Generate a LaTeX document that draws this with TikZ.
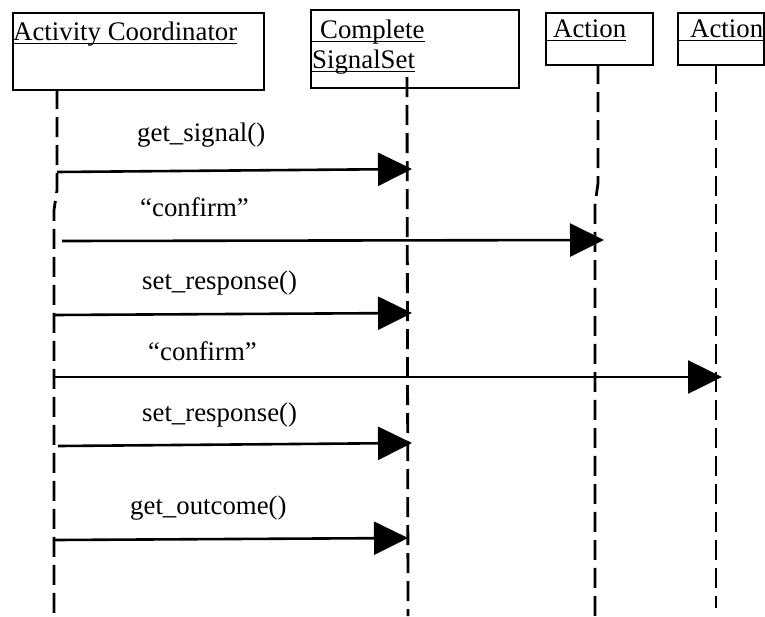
\documentclass[tikz,border=0pt]{standalone}
\usepackage{fontspec}
\setmainfont{Liberation Serif}
\usetikzlibrary{arrows.meta}
\begin{document}
\begin{tikzpicture}[x=1pt,y=-1pt,
  box/.style={draw,line width=1.8pt,inner sep=0pt,anchor=north west},
  lbl/.style={anchor=base west,inner sep=0pt,font=\fontsize{26.8}{30}\selectfont},
  uline/.style={line width=1.3pt},
  life/.style={line width=2.8pt,dash pattern=on 20pt off 8pt},
  msg/.style={line width=2.6pt,-{Triangle[length=34pt,width=33pt]}}]
\useasboundingbox (0,0) rectangle (765,616);
% heads
\node[box,minimum width=251pt,minimum height=77pt] (ac) at (12,12) {};
\node[box,minimum width=208pt,minimum height=78pt] (css) at (310,9) {};
\node[box,minimum width=107pt,minimum height=52pt] (a1) at (545,12) {};
\node[box,minimum width=86pt,minimum height=52pt] (a2) at (677,12) {};
\node[lbl] (tac) at (13,40) {Activity Coordinator};
\node[lbl] (tcomp) at (320,38) {Complete};
\node[lbl] (tsig) at (312,68) {SignalSet};
\node[lbl] (ta1) at (553,37) {Action};
\node[lbl] (ta2) at (690,37) {Action};
\draw[uline] ([yshift=-3.5pt]tac.base west) -- ([yshift=-3.5pt]tac.base east);
\draw[uline] ([yshift=-3.5pt]tcomp.base west -| css.west) -- ([yshift=-3.5pt]tcomp.base east);
\draw[uline] ([yshift=-3.5pt]tsig.base west -| css.west) -- ([yshift=-3.5pt]tsig.base east);
\draw[uline] ([yshift=-3.5pt]ta1.base west -| a1.west) -- ([yshift=-3.5pt]ta1.base east);
\draw[uline] ([yshift=-3.5pt]ta2.base west -| a2.west) -- ([yshift=-3.5pt]ta2.base east);
% lifelines
\coordinate (l0a) at (57,89);  \coordinate (l0b) at (57,190);
\coordinate (l0c) at (54,210); \coordinate (l0d) at (54,616);
\coordinate (l1a) at (407,77); \coordinate (l1b) at (408,616);
\coordinate (l2a) at (598,64); \coordinate (l2b) at (598,183);
\coordinate (l2c) at (595,205); \coordinate (l2d) at (595,616);
\coordinate (l3a) at (716,64); \coordinate (l3b) at (716,608);
\draw[life] (l0a) -- (l0b) -- (l0c) -- (l0d);
\draw[life] (l1a) -- (l1b);
\draw[life] (l2a) -- (l2b) -- (l2c) -- (l2d);
\draw[life] (l3a) -- (l3b);
% messages
\coordinate (m1s) at (57,172);  \coordinate (m1e) at (412,169);
\coordinate (m2s) at (62,241);  \coordinate (m2e) at (604,240);
\coordinate (m3s) at (54,315);  \coordinate (m3e) at (412,313);
\coordinate (m4s) at (54,377);  \coordinate (m4e) at (722,377);
\coordinate (m5s) at (58,446);  \coordinate (m5e) at (412,443);
\coordinate (m6s) at (55,540);  \coordinate (m6e) at (408,538);
\draw[msg] (m1s) -- (m1e);
\draw[msg] (m2s) -- (m2e);
\draw[msg] (m3s) -- (m3e);
\draw[msg] (m4s) -- (m4e);
\draw[msg] (m5s) -- (m5e);
\draw[msg] (m6s) -- (m6e);
\node[lbl] (t1) at (137,141) {get\_signal()};
\node[lbl] (t2) at (140,216) {“confirm”};
\node[lbl] (t3) at (142,289) {set\_response()};
\node[lbl] (t4) at (148,360) {“confirm”};
\node[lbl] (t5) at (142,421) {set\_response()};
\node[lbl] (t6) at (130,514) {get\_outcome()};
\end{tikzpicture}
\end{document}
